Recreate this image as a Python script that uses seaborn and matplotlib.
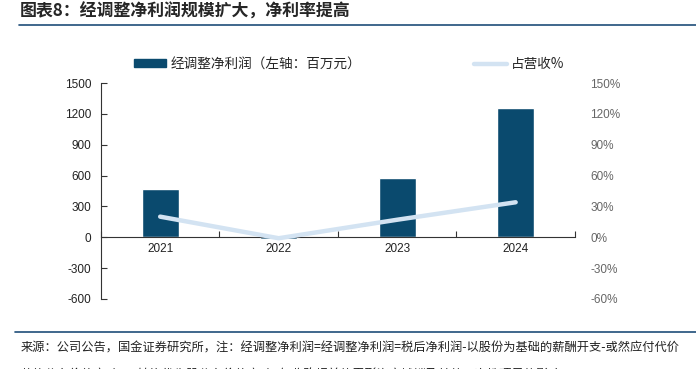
import matplotlib
matplotlib.use("Agg")
import matplotlib.pyplot as plt
from matplotlib.lines import Line2D
from matplotlib.ticker import FixedLocator, PercentFormatter
import seaborn as sns
import pandas as pd

# ---- data ----
YEARS = ["2021", "2022", "2023", "2024"]
ADJ_PROFIT = [470, -20, 580, 1260]          # 百万元, left axis
NET_MARGIN = [20, -1, 17, 34]               # %, right axis

BAR_LABEL = "经调整净利润（左轴：百万元）"
LINE_LABEL = "占营收%"
TITLE = "图表8：经调整净利润规模扩大，净利率提高"
SOURCE = ("来源：公司公告，国金证券研究所，注：经调整净利润=经调整净利润=税后净利润-以股份为基础的薪酬开支-或然应付代价")
SOURCE2 = ("款的公允价值变动+可转换优先股公允价值变动+与收购相关的无形资产摊销及其他一次性项目的影响")

BAR_COLOR = "#0A4A6E"
LINE_COLOR = "#D3E3F2"
RULE_COLOR = "#1F4E79"

sns.set_theme(style="white")
plt.rcParams["font.family"] = ["Liberation Sans", "Noto Sans CJK SC", "DejaVu Sans"]
plt.rcParams["axes.unicode_minus"] = False
CJK = ["Noto Sans CJK SC", "DejaVu Sans"]

df = pd.DataFrame({"year": YEARS, "profit": ADJ_PROFIT, "margin": NET_MARGIN})
df["pos"] = range(len(df))

fig = plt.figure(figsize=(6.96, 3.69), dpi=100)
ax = fig.add_axes([0.145, 0.19, 0.681, 0.585])

sns.barplot(data=df, x="year", y="profit", color=BAR_COLOR, width=0.31,
            saturation=1, ax=ax)
ax.set_xlim(-0.5, 3.5)
ax.set_ylim(-600, 1500)
ax.set_yticks(range(-600, 1501, 300))
ax.set_xlabel("")
ax.set_ylabel("")

for s in ["top", "right"]:
    ax.spines[s].set_visible(False)
ax.spines["left"].set_color("#333333")
ax.spines["left"].set_linewidth(0.8)
ax.spines["bottom"].set_position(("data", 0))
ax.spines["bottom"].set_color("#333333")
ax.spines["bottom"].set_linewidth(0.8)

ax.tick_params(axis="y", direction="in", length=4, width=0.8, color="#333333",
               labelsize=8.5, labelcolor="#222222", pad=7, left=True)
ax.xaxis.set_minor_locator(FixedLocator([-0.5, 0.5, 1.5, 2.5, 3.5]))
ax.tick_params(axis="x", which="major", length=0, labelsize=8.5,
               labelcolor="#222222", pad=4)
ax.tick_params(axis="x", which="minor", direction="in", length=4, width=0.8,
               color="#333333", bottom=True)

ax2 = ax.twinx()
sns.lineplot(data=df, x="pos", y="margin", color=LINE_COLOR, linewidth=3.2,
             ax=ax2, solid_capstyle="round")
ax2.set_ylim(-60, 150)
ax2.set_yticks(range(-60, 151, 30))
ax2.yaxis.set_major_formatter(PercentFormatter(decimals=0))
ax2.set_xlim(-0.5, 3.5)
ax2.set_ylabel("")
for s in ax2.spines.values():
    s.set_visible(False)
ax2.tick_params(axis="y", length=0, labelsize=8.5, labelcolor="#666666", pad=11)

# legends
bar_handle = plt.Rectangle((0, 0), 1, 1, color=BAR_COLOR)
line_handle = Line2D([0], [0], color=LINE_COLOR, linewidth=3.2)
leg_kw = dict(frameon=False, handlelength=2.4, handleheight=0.5,
              handletextpad=0.3, borderaxespad=0, borderpad=0,
              prop={"family": CJK, "size": 9.8})
fig.legend([bar_handle], [BAR_LABEL], loc="center left",
           bbox_to_anchor=(0.192, 0.826), **leg_kw)
fig.legend([line_handle], [LINE_LABEL], loc="center left",
           bbox_to_anchor=(0.681, 0.826), **leg_kw)

# title, rules, source
fig.text(0.028, 0.968, TITLE, fontsize=12.2, fontweight="bold", style="italic",
         va="center", ha="left", family=CJK)
fig.add_artist(Line2D([0.028, 1.0], [0.932, 0.932], color=RULE_COLOR, lw=1.2))
fig.add_artist(Line2D([0.022, 1.0], [0.099, 0.099], color=RULE_COLOR, lw=1.2))
fig.text(0.030, 0.057, SOURCE, fontsize=8.8, va="center", ha="left",
         color="#222222", family=CJK)
# second note line sits mostly below the bottom edge, as in the reference
fig.text(0.030, -0.018, SOURCE2, fontsize=8.8, va="center", ha="left",
         color="#222222", family=CJK)

fig.savefig("out.png", dpi=100)
